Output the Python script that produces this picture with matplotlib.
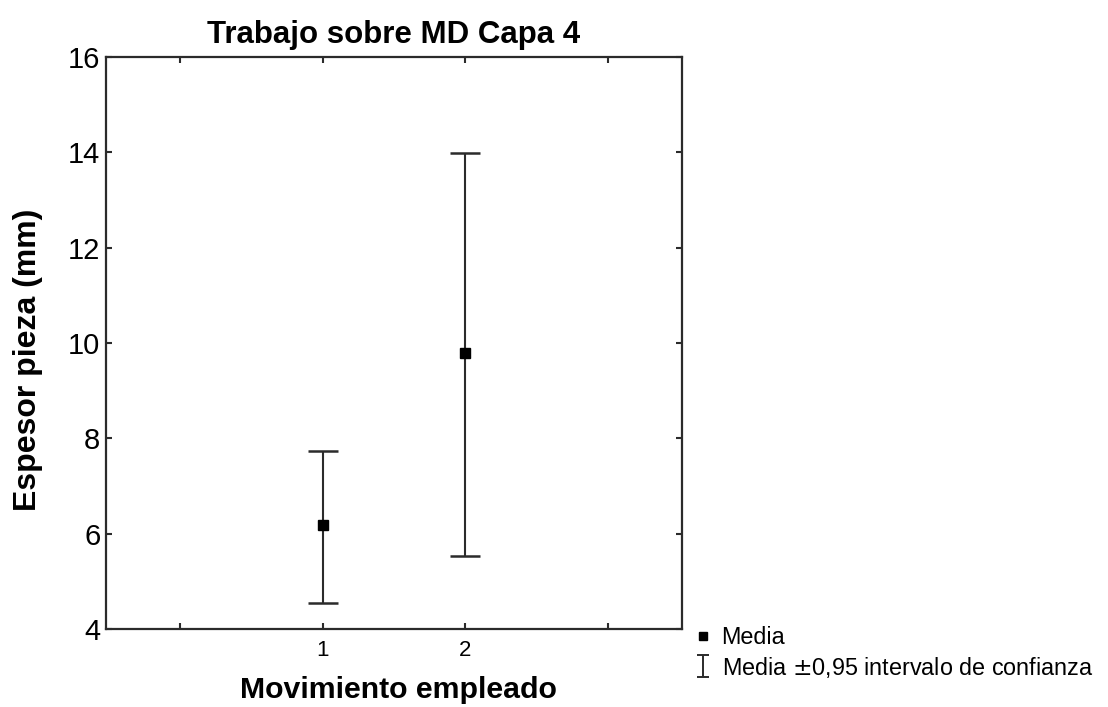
import numpy as np
import matplotlib.pyplot as plt
from matplotlib.lines import Line2D
from matplotlib.path import Path

plt.rcParams['font.family'] = ['Liberation Sans', 'DejaVu Sans']

# data
groups = [1, 2]
means = [6.18, 9.78]
upper = [7.73, 13.99]
lower = [4.55, 5.53]
tick_pos = [0, 1, 2, 3]
tick_labels = ['', '1', '2', '']

col = '#2b2b2b'
fig = plt.figure(figsize=(11.08, 7.07), dpi=100)
ax = fig.add_axes([0.0957, 0.1103, 0.5198, 0.8091])

means = np.array(means)
yerr = [means - np.array(lower), np.array(upper) - means]
ax.errorbar(groups, means, yerr=yerr, fmt='none', ecolor=col, elinewidth=1.5,
            capsize=11, capthick=1.8)
ax.plot(groups, means, 's', color='black', markersize=7, ls='none')

ax.set_xlim(-0.52, 3.52)
ax.set_ylim(4, 16)
ax.set_xticks(tick_pos)
ax.set_xticklabels(tick_labels, fontsize=16)
ax.set_yticks([4, 6, 8, 10, 12, 14, 16])
ax.tick_params(axis='y', labelsize=21, direction='in', length=4, width=1.5,
               color=col, right=True, pad=4)
ax.tick_params(axis='x', direction='in', length=4, width=1.5, color=col,
               top=True, pad=8)
for s in ax.spines.values():
    s.set_color(col)
    s.set_linewidth(1.6)

ax.set_title('Trabajo sobre MD Capa 4', fontsize=22.5, fontweight='bold', pad=10)
ax.set_xlabel('Movimiento empleado', fontsize=21.8, fontweight='bold')
ax.set_ylabel('Espesor pieza (mm)', fontsize=23, fontweight='bold')
ax.xaxis.set_label_coords(0.507, -0.083)
ax.yaxis.set_label_coords(-0.11, 0.47)

# legend: I-beam marker for the interval
ibeam = Path([(-0.5, -1), (0.5, -1), (0, -1), (0, 1), (-0.5, 1), (0.5, 1)],
             [Path.MOVETO, Path.LINETO, Path.MOVETO, Path.LINETO, Path.MOVETO, Path.LINETO])
h1 = Line2D([], [], marker='s', color='black', ls='none', markersize=6)
h2 = Line2D([], [], marker=ibeam, color=col, ls='none', markersize=16,
            markerfacecolor='none', markeredgewidth=1.4)
fig.legend([h1, h2], ['Media', 'Media $\\pm$0,95 intervalo de confianza'],
           loc='upper left', bbox_to_anchor=(0.626, 0.115), frameon=False,
           fontsize=16.8, handlelength=0.8, handletextpad=0.4, labelspacing=0.25,
           borderaxespad=0, borderpad=0)

fig.savefig('out.png', dpi=100)
